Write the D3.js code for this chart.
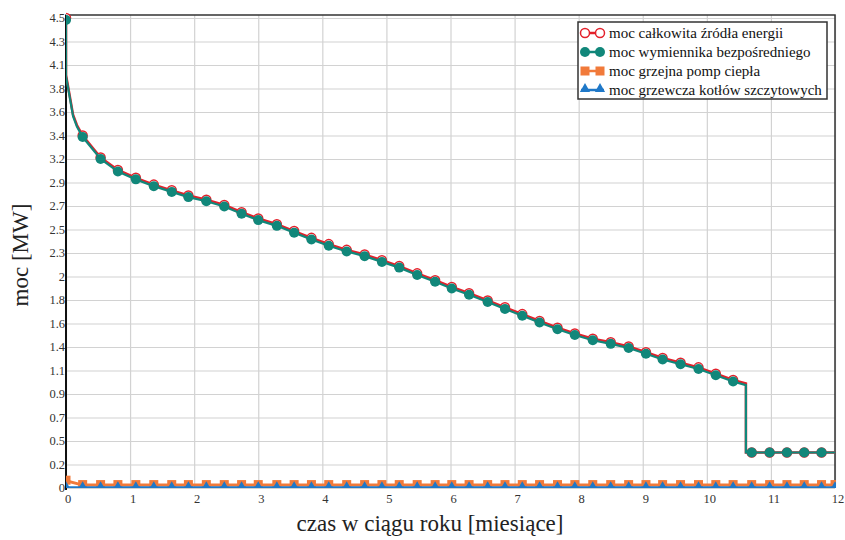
<!DOCTYPE html>
<html>
<head>
<meta charset="utf-8">
<script src="https://cdn.jsdelivr.net/npm/d3@7"></script>
<style>
  body { margin: 0; background: #fff; }
</style>
</head>
<body>
<script>
// czas [miesiące] - punkty linii
const months = [0, 0, 0.03, 0.11, 0.17, 0.26, 0.54, 0.81, 1.09, 1.37, 1.65, 1.91, 2.19, 2.47, 2.74,
  3.00, 3.29, 3.56, 3.83, 4.10, 4.38, 4.66, 4.93, 5.20, 5.48, 5.76, 6.02, 6.29, 6.58, 6.85,
  7.12, 7.39, 7.67, 7.94, 8.22, 8.50, 8.78, 9.05, 9.31, 9.59, 9.87, 10.14, 10.41, 10.61,
  10.61, 10.70, 10.98, 11.25, 11.52, 11.79, 12.0];
// 1 = punkt z markerem
const marked = [1, 0, 0, 0, 0, 1, 1, 1, 1, 1, 1, 1, 1, 1, 1,
  1, 1, 1, 1, 1, 1, 1, 1, 1, 1, 1, 1, 1, 1, 1,
  1, 1, 1, 1, 1, 1, 1, 1, 1, 1, 1, 1, 1, 0,
  0, 1, 1, 1, 1, 1, 0];
// moc wymiennika bezpośredniego [MW]
const exchanger = [4.48, 3.94, 3.84, 3.56, 3.46, 3.36, 3.15, 3.03, 2.955, 2.89, 2.835, 2.785, 2.745, 2.695, 2.625,
  2.565, 2.51, 2.445, 2.38, 2.32, 2.265, 2.22, 2.165, 2.11, 2.04, 1.975, 1.91, 1.85, 1.78, 1.715,
  1.65, 1.585, 1.52, 1.465, 1.415, 1.38, 1.34, 1.285, 1.23, 1.185, 1.14, 1.08, 1.02, 0.985,
  0.34, 0.34, 0.34, 0.34, 0.34, 0.34, 0.34];
// moc całkowita źródła energii [MW]
const total = [4.5, 3.955, 3.855, 3.575, 3.475, 3.375, 3.165, 3.045, 2.97, 2.905, 2.85, 2.8, 2.76, 2.71, 2.64,
  2.58, 2.525, 2.46, 2.395, 2.335, 2.28, 2.235, 2.18, 2.125, 2.055, 1.99, 1.925, 1.865, 1.795, 1.73,
  1.665, 1.6, 1.535, 1.48, 1.43, 1.395, 1.355, 1.3, 1.245, 1.2, 1.155, 1.095, 1.035, 1.0,
  0.34, 0.34, 0.34, 0.34, 0.34, 0.34, 0.34];

// pompy ciepła i kotły szczytowe - punkty z markerami
const lowMonths = [0, 0.26, 0.54, 0.81, 1.09, 1.37, 1.65, 1.91, 2.19, 2.47, 2.74,
  3.00, 3.29, 3.56, 3.83, 4.10, 4.38, 4.66, 4.93, 5.20, 5.48, 5.76, 6.02, 6.29, 6.58, 6.85,
  7.12, 7.39, 7.67, 7.94, 8.22, 8.50, 8.78, 9.05, 9.31, 9.59, 9.87, 10.14, 10.41,
  10.70, 10.98, 11.25, 11.52, 11.79, 12.0];
const heatPump = [0.07, 0.028, 0.028, 0.028, 0.028, 0.028, 0.028, 0.028, 0.028, 0.028, 0.028,
  0.028, 0.028, 0.028, 0.028, 0.028, 0.028, 0.028, 0.028, 0.028, 0.028, 0.028, 0.028, 0.028, 0.028, 0.028,
  0.028, 0.028, 0.028, 0.028, 0.028, 0.028, 0.028, 0.028, 0.028, 0.028, 0.028, 0.028, 0.028,
  0.028, 0.028, 0.028, 0.028, 0.028, 0.028];
const boilers = [0, 0, 0, 0, 0, 0, 0, 0, 0, 0, 0,
  0, 0, 0, 0, 0, 0, 0, 0, 0, 0, 0, 0, 0, 0, 0,
  0, 0, 0, 0, 0, 0, 0, 0, 0, 0, 0, 0, 0,
  0, 0, 0, 0, 0, 0];

const xTicks = [0, 1, 2, 3, 4, 5, 6, 7, 8, 9, 10, 11, 12];
const yTickLabels = ["0", "0.2", "0.5", "0.7", "0.9", "1.1", "1.4", "1.6", "1.8", "2", "2.3",
  "2.5", "2.7", "2.9", "3.2", "3.4", "3.6", "3.8", "4.1", "4.3", "4.5"];
const legendNames = ["moc całkowita źródła energii", "moc wymiennika bezpośredniego",
  "moc grzejna pomp ciepła", "moc grzewcza kotłów szczytowych"];

const colors = { total: "#e3212b", exch: "#11877a", pump: "#f17a3a", boil: "#1f78c8" };
const serif = "'Liberation Serif', 'Times New Roman', serif";

const width = 845, height = 540;
const mLeft = 66, mRight = 835, mTop = 18, mBottom = 488;

const svg = d3.select("body").append("svg")
  .attr("width", width)
  .attr("height", height)
  .attr("font-family", serif);

const x = d3.scaleLinear().domain([0, 12]).range([mLeft, mRight]);
const y = d3.scaleLinear().domain([0, 4.5]).range([mBottom, mTop]);
const yTicks = yTickLabels.map((_, i) => i * 4.5 / 20);

svg.append("defs").append("clipPath").attr("id", "plot")
  .append("rect").attr("x", mLeft).attr("y", mTop - 8).attr("width", mRight - mLeft + 1).attr("height", mBottom - mTop + 8);

// siatka
svg.append("g")
  .attr("transform", `translate(0,${mBottom})`)
  .call(d3.axisBottom(x).tickValues(xTicks).tickSize(-(mBottom - mTop + 3)).tickFormat(""))
  .call(g => g.select(".domain").remove())
  .call(g => g.selectAll("line").attr("stroke", "#d2d2d2").attr("stroke-width", 1.2));
svg.append("g")
  .attr("transform", `translate(${mLeft},0)`)
  .call(d3.axisLeft(y).tickValues(yTicks).tickSize(-(mRight - mLeft)).tickFormat(""))
  .call(g => g.select(".domain").remove())
  .call(g => g.selectAll("line").attr("stroke", "#d2d2d2").attr("stroke-width", 1.2));

// ramka
svg.append("path")
  .attr("d", `M${mLeft},${mBottom}V${mTop - 3}H${mRight}V${mBottom}`)
  .attr("fill", "none").attr("stroke", "#333").attr("stroke-width", 1.5);
svg.append("line").attr("x1", mLeft).attr("x2", mLeft).attr("y1", mTop - 3).attr("y2", mBottom + 2)
  .attr("stroke", "#111").attr("stroke-width", 2);

// etykiety osi
svg.append("g")
  .selectAll("text")
  .data(yTicks)
  .join("text")
  .attr("x", mLeft - 1)
  .attr("y", d => y(d) + 4)
  .attr("text-anchor", "end")
  .attr("font-family", serif)
  .attr("font-size", 12.5)
  .attr("fill", "#333")
  .text((d, i) => yTickLabels[i]);
svg.append("g")
  .selectAll("text")
  .data(xTicks)
  .join("text")
  .attr("x", d => x(d) + (d === 0 ? 2 : 3))
  .attr("y", mBottom + 15)
  .attr("text-anchor", "middle")
  .attr("font-family", serif)
  .attr("font-size", 12.5)
  .attr("fill", "#333")
  .text(d => d);

svg.append("text")
  .attr("transform", `translate(28,${(mTop + mBottom) / 2 + 2}) rotate(-90)`)
  .attr("text-anchor", "middle")
  .attr("font-family", serif)
  .attr("font-size", 23)
  .attr("fill", "#222")
  .text("moc [MW]");
svg.append("text")
  .attr("x", 430)
  .attr("y", 531)
  .attr("text-anchor", "middle")
  .attr("font-family", serif)
  .attr("font-size", 23)
  .attr("fill", "#222")
  .text("czas w ciągu roku [miesiące]");

const plot = svg.append("g").attr("clip-path", "url(#plot)");
const line = d3.line().x(d => x(d[0])).y(d => y(d[1]));

const totalPts = months.map((m, i) => [m, total[i], marked[i]]);
const exchPts = months.map((m, i) => [m, exchanger[i], marked[i]]);
const pumpPts = lowMonths.map((m, i) => [m, heatPump[i]]);
const boilPts = lowMonths.map((m, i) => [m, boilers[i]]);

// moc grzejna pomp ciepła
plot.append("path").attr("d", line(pumpPts))
  .attr("fill", "none").attr("stroke", colors.pump).attr("stroke-width", 3);
plot.selectAll(".sq").data(pumpPts).join("rect")
  .attr("x", d => x(d[0]) - 4.5).attr("y", d => y(d[1]) - 5)
  .attr("width", 9).attr("height", 9).attr("fill", colors.pump);

// moc grzewcza kotłów szczytowych
plot.append("path").attr("d", line(boilPts))
  .attr("fill", "none").attr("stroke", colors.boil).attr("stroke-width", 3.5);
const tri = d3.symbol().type(d3.symbolTriangle).size(30);
plot.selectAll(".tri").data(boilPts).join("path")
  .attr("d", tri)
  .attr("transform", d => `translate(${x(d[0])},${y(d[1]) - 2})`)
  .attr("fill", colors.boil);

// moc całkowita źródła energii
plot.append("path").attr("d", line(totalPts))
  .attr("fill", "none").attr("stroke", colors.total).attr("stroke-width", 2.5);
plot.selectAll(".tot").data(totalPts.filter(d => d[2])).join("circle")
  .attr("cx", d => x(d[0])).attr("cy", d => y(d[1])).attr("r", 4.5)
  .attr("fill", "#fff").attr("stroke", colors.total).attr("stroke-width", 1.5);

// moc wymiennika bezpośredniego
plot.append("path").attr("d", line(exchPts))
  .attr("fill", "none").attr("stroke", colors.exch).attr("stroke-width", 2.2);
plot.selectAll(".ex").data(exchPts.filter(d => d[2])).join("circle")
  .attr("cx", d => x(d[0])).attr("cy", d => y(d[1])).attr("r", 5)
  .attr("fill", colors.exch);

// legenda
const lg = svg.append("g");
lg.append("rect").attr("x", 578).attr("y", 22).attr("width", 249).attr("height", 77)
  .attr("fill", "#fff").attr("stroke", "#333").attr("stroke-width", 1.5);
const rows = lg.selectAll(".row").data(legendNames).join("g")
  .attr("transform", (d, i) => `translate(0,${33 + i * 19})`);
rows.append("line").attr("x1", 581).attr("x2", 604).attr("y1", 0).attr("y2", 0)
  .attr("stroke", (d, i) => [colors.total, colors.exch, colors.pump, colors.boil][i])
  .attr("stroke-width", 2.5);
rows.each(function (d, i) {
  const g = d3.select(this);
  [585, 600].forEach(cx => {
    if (i === 0) {
      g.append("circle").attr("cx", cx).attr("cy", 0).attr("r", 4.5)
        .attr("fill", "#fff").attr("stroke", colors.total).attr("stroke-width", 1.5);
    } else if (i === 1) {
      g.append("circle").attr("cx", cx).attr("cy", 0).attr("r", 5).attr("fill", colors.exch);
    } else if (i === 2) {
      g.append("rect").attr("x", cx - 4.5).attr("y", -4.5).attr("width", 9).attr("height", 9)
        .attr("fill", colors.pump);
    } else {
      g.append("path").attr("d", d3.symbol().type(d3.symbolTriangle).size(45))
        .attr("transform", `translate(${cx},-1)`).attr("fill", colors.boil);
    }
  });
});
rows.append("text").attr("x", 609).attr("y", 5)
  .attr("font-family", serif)
  .attr("font-size", 15).attr("fill", "#111")
  .text(d => d);
</script>
</body>
</html>
